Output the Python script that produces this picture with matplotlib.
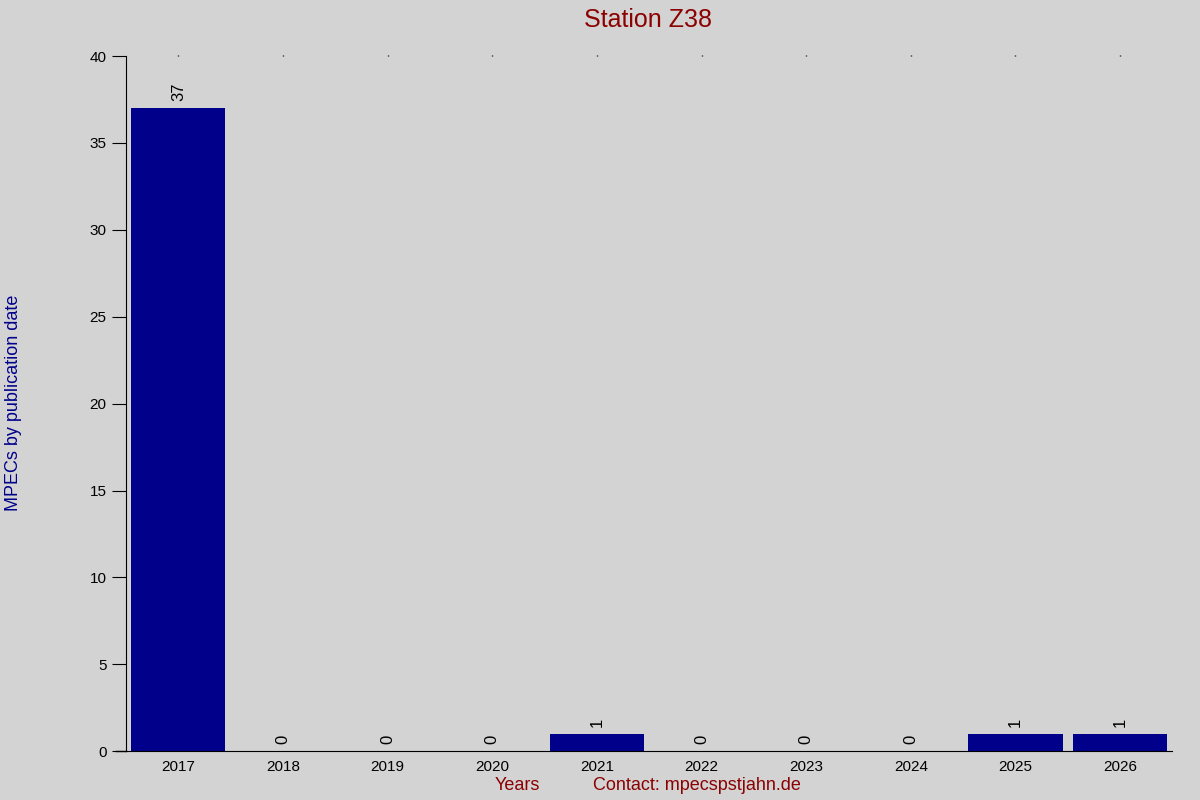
import matplotlib.pyplot as plt
import numpy as np

plt.rcParams['font.family'] = ['Liberation Sans', 'DejaVu Sans']

years = ["2017", "2018", "2019", "2020", "2021", "2022", "2023", "2024", "2025", "2026"]
counts = [37, 0, 0, 0, 1, 0, 0, 0, 1, 1]

bg = "#d3d3d3"
fig = plt.figure(figsize=(12, 8), dpi=100, facecolor=bg)
ax = fig.add_axes([0.105, 0.061, 0.872, 0.869], facecolor=bg)

x = np.arange(len(years))
ax.bar(x, counts, width=0.9, color="#00008b")
for xi, c in zip(x, counts):
    ax.text(xi, c + 0.4, str(c), rotation=90, ha="center", va="bottom", fontsize=12)

ax.set_xlim(-0.5, len(years) - 0.5)
ax.set_ylim(0, 40)
ax.set_yticks(range(0, 41, 5))
ax.set_xticks(x)
ax.set_xticklabels(years)
ax.tick_params(axis="y", length=10, labelsize=11, pad=4)
ax.tick_params(axis="x", bottom=False, top=True, length=1, width=1, labelsize=11, pad=5)

for s in ["top", "right"]:
    ax.spines[s].set_visible(False)
ax.spines["bottom"].set_bounds(-0.5, len(years) - 0.5)

# extend baseline left over the zero tick
ax.plot([-0.6, -0.5], [0, 0], color="black", lw=1, clip_on=False)

fig.text(0.54, 0.975, "Station Z38", color="#8b0000", fontsize=18, ha="center", va="center")
fig.text(0.011, 0.496, "MPECs by publication date", color="#00008b", fontsize=13,
         rotation=90, ha="center", va="center")
fig.text(0.431, 0.018, "Years", color="#8b0000", fontsize=13, ha="center", va="center")
fig.text(0.581, 0.018, "Contact: mpecspstjahn.de", color="#8b0000", fontsize=13, ha="center", va="center")

plt.savefig("out.png", dpi=100, facecolor=bg)
